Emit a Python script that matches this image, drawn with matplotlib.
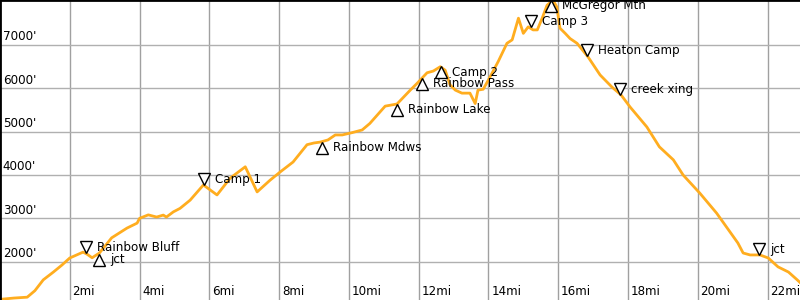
import matplotlib
matplotlib.use("Agg")
import matplotlib.pyplot as plt
import matplotlib.transforms as mtransforms

# elevation profile
miles = [0.0, 0.4, 0.78, 1.0, 1.24, 1.53, 1.78, 2.0, 2.38, 2.5, 2.64, 2.85, 3.2,
         3.64, 3.93, 4.0, 4.25, 4.49, 4.68, 4.77, 4.97, 5.16, 5.45, 5.83, 6.22,
         6.6, 7.03, 7.37, 7.74, 8.03, 8.4, 8.8, 9.0, 9.18, 9.4, 9.61, 9.81, 10.1,
         10.38, 10.6, 11.04, 11.38, 11.76, 11.96, 12.24, 12.42, 12.62, 12.76,
         12.9, 13.05, 13.24, 13.47, 13.62, 13.7, 13.85, 14.05, 14.28, 14.53,
         14.68, 14.86, 15.0, 15.14, 15.28, 15.4, 15.54, 15.68, 15.85, 15.96,
         16.05, 16.2, 16.34, 16.54, 16.86, 17.2, 17.54, 17.8, 18.06, 18.54,
         18.9, 19.3, 19.58, 20.06, 20.54, 21.15, 21.3, 21.5, 21.78, 22.02,
         22.3, 22.6, 22.85, 22.93]
elev = [1130, 1160, 1180, 1330, 1580, 1760, 1925, 2085, 2220, 2170, 2090, 2200,
        2550, 2775, 2890, 3000, 3080, 3030, 3075, 3030, 3150, 3230, 3420, 3770,
        3540, 3930, 4190, 3610, 3880, 4070, 4300, 4700, 4740, 4760, 4810, 4925,
        4925, 4980, 5040, 5190, 5590, 5640, 5960, 6120, 6360, 6400, 6500, 6420,
        6080, 5960, 5890, 5890, 5650, 5960, 5980, 6270, 6620, 7040, 7120, 7620,
        7270, 7420, 7350, 7350, 7620, 7920, 8040, 7880, 7390, 7270, 7150, 7040,
        6720, 6310, 6030, 5850, 5570, 5110, 4650, 4350, 4000, 3580, 3120, 2430,
        2200, 2155, 2155, 2085, 1880, 1760, 1580, 1520]

# waypoints: mile, elevation at the line, up (True = triangle below line)
wp_names = ["Rainbow Bluff", "jct", "Camp 1", "Rainbow Mdws", "Rainbow Lake",
            "Rainbow Pass", "Camp 2", "Camp 3", "McGregor Mtn", "Heaton Camp",
            "creek xing", "jct"]
wp_miles = [2.46, 2.84, 5.85, 9.23, 11.38, 12.1, 12.63, 15.22, 15.8, 16.83, 17.78, 21.75]
wp_elev = [2200, 2170, 3770, 4760, 5640, 6230, 6500, 7420, 8030, 6750, 5850, 2155]
wp_up = [False, True, False, True, True, True, True, False, True, False, False, False]

x_ticks = [2, 4, 6, 8, 10, 12, 14, 16, 18, 20, 22]
y_ticks = [2000, 3000, 4000, 5000, 6000, 7000]

fig = plt.figure(figsize=(8, 3), dpi=100)
ax = fig.add_axes([0, 0, 1, 1])
ax.set_xlim(0, 22.93)
ax.set_ylim(1115, 8040)

for x in x_ticks:
    ax.axvline(x, color="#a0a0a0", lw=1, zorder=0)
for y in y_ticks:
    ax.axhline(y, color="#b0b0b0", lw=1, zorder=0)

ax.plot(miles, elev, color="#ffad1f", lw=2, zorder=2)

for name, m, e, up in zip(wp_names, wp_miles, wp_elev, wp_up):
    dy = -4 if up else 4
    tr = mtransforms.offset_copy(ax.transData, fig=fig, x=0, y=dy, units="points")
    ax.plot([m], [e], marker="^" if up else "v", ms=8, mfc="white", mec="black",
            mew=1, transform=tr, zorder=3)
    ax.annotate(name, (m, e), xytext=(8, dy), textcoords="offset points",
                ha="left", va="center", fontsize=8.6, zorder=4)

# tick labels drawn inside the plot
xtr = mtransforms.blended_transform_factory(ax.transData, ax.transAxes)
for x in x_ticks:
    ax.annotate("%dmi" % x, (x, 0), xycoords=xtr, xytext=(2, 6),
                textcoords="offset points", ha="left", va="center", fontsize=8.6)
ytr = mtransforms.blended_transform_factory(ax.transAxes, ax.transData)
for y in y_ticks:
    ax.annotate("%d'" % y, (0, y), xycoords=ytr, xytext=(2, 6),
                textcoords="offset points", ha="left", va="center", fontsize=8.6)

ax.set_xticks([])
ax.set_yticks([])
ax.spines["right"].set_visible(False)
ax.spines["bottom"].set_visible(False)
ax.spines["left"].set_linewidth(2)
ax.spines["top"].set_linewidth(2)

fig.savefig("out.png", dpi=100)
